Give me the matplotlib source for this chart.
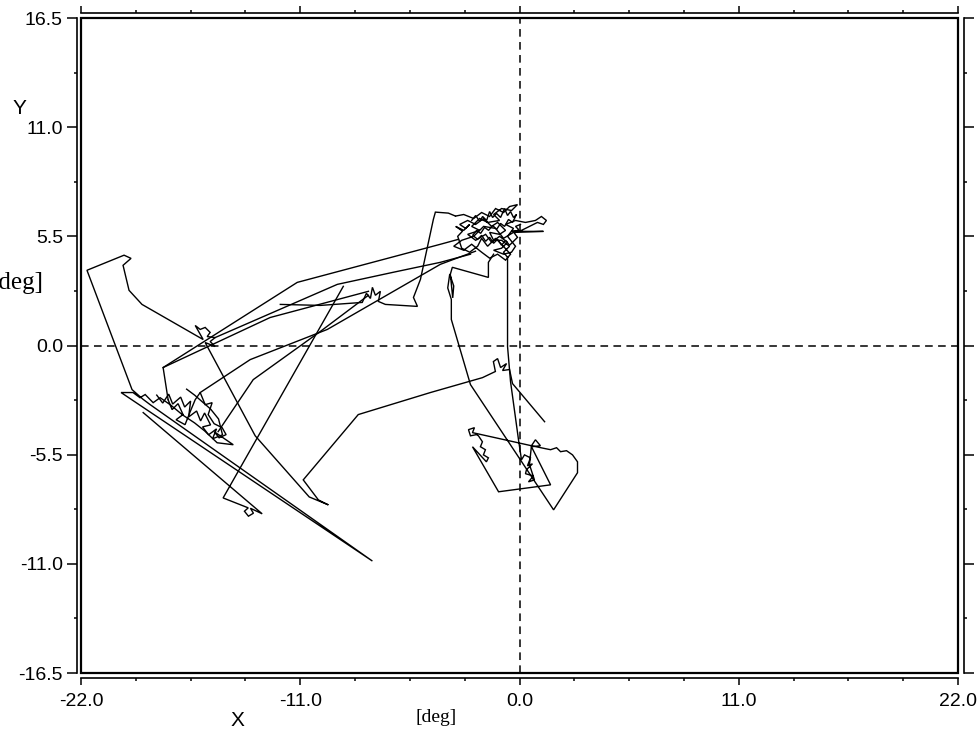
import numpy as np
import matplotlib.pyplot as plt
from matplotlib.ticker import MultipleLocator, FormatStrFormatter
from matplotlib.patches import Rectangle

# gaze trace, all in [deg]
# line C: start point, small star, hook up into the upper cluster
line_c = [(-12.00, 2.07), (-9.99, 2.02), (-7.89, 2.17), (-7.68, 2.63), (-7.48, 2.37),
          (-7.38, 2.93), (-7.23, 2.53), (-6.98, 2.73), (-7.08, 2.22), (-6.73, 2.07),
          (-5.12, 1.97), (-5.32, 2.42), (-4.97, 3.33), (-4.32, 6.36), (-4.22, 6.72),
          (-3.57, 6.67), (-3.21, 6.52)]

# upper fixation cluster
cluster_up = [(-3.21, 6.52), (-2.8, 6.6), (-2.3, 6.4), (-1.9, 6.7), (-1.5, 6.5), (-1.2, 6.9),
              (-0.8, 6.7), (-0.5, 7.0), (-0.1, 7.1), (-0.4, 6.8), (-0.9, 6.9), (-1.3, 6.6),
              (-1.0, 6.3), (-1.6, 6.2), (-2.0, 6.4), (-2.4, 6.0), (-2.0, 5.8), (-2.6, 5.6),
              (-2.2, 5.3), (-1.7, 5.6), (-1.4, 5.2), (-1.0, 5.5), (-0.6, 5.2), (-0.9, 4.9),
              (-1.3, 4.8), (-0.8, 4.6), (-0.4, 4.7), (-0.2, 5.0), (-0.6, 5.5), (-0.3, 5.9),
              (-0.7, 6.1), (-0.2, 6.3), (0.3, 6.2), (0.8, 6.3), (1.1, 6.5), (1.35, 6.3),
              (1.2, 6.1), (0.9, 6.2), (0.5, 6.0), (0.1, 5.8), (-0.4, 5.75), (1.2, 5.75),
              (-0.3, 5.7), (-0.8, 5.4), (-1.2, 5.9), (-1.8, 6.0), (-2.3, 5.5), (-2.9, 5.3),
              (-3.3, 5.0), (-2.8, 4.8), (-2.4, 5.1), (-1.9, 4.7), (-1.5, 4.4), (-1.1, 4.6),
              (-0.7, 4.3), (-0.45, 4.6), (-0.9, 5.1), (-1.2, 5.4), (-1.6, 5.0), (-1.9, 5.4),
              (-2.1, 5.0), (-2.5, 4.7), (-2.9, 4.9), (-3.1, 5.5), (-2.86, 5.76), (-3.2, 6.0),
              (-2.8, 5.8), (-2.5, 6.1), (-2.7, 5.9), (-3.0, 6.1), (-2.6, 6.3), (-2.2, 6.1),
              (-1.8, 6.4), (-1.4, 6.0), (-1.1, 6.2), (-0.7, 5.8), (-1.0, 5.6), (-1.5, 5.7),
              (-1.3, 5.3), (-0.9, 5.3), (-0.5, 5.0), (-0.8, 4.7), (-0.6, 4.44)]

# finer squiggles inside the same cluster
cluster_up2 = [(-2.4, 6.3), (-2.2, 6.55), (-2.0, 6.25), (-1.85, 6.5), (-1.65, 6.3), (-1.5, 6.75),
               (-1.35, 6.45), (-1.15, 6.65), (-0.95, 6.45), (-0.75, 6.9), (-0.6, 6.55), (-0.45, 6.75),
               (-0.3, 6.45), (-0.15, 6.6), (-0.35, 6.2), (-0.55, 6.35), (-0.75, 6.0), (-0.95, 6.15),
               (-1.15, 5.85), (-1.35, 6.05), (-1.55, 5.8), (-1.75, 5.95), (-1.95, 5.65), (-2.15, 5.8),
               (-2.35, 5.55), (-2.1, 5.35), (-1.9, 5.55), (-1.7, 5.25), (-1.5, 5.45), (-1.3, 5.15),
               (-1.1, 5.35), (-0.9, 5.05), (-0.7, 5.3), (-0.5, 5.05), (-0.3, 5.25), (-0.1, 5.45),
               (-0.25, 5.65), (-0.05, 5.85), (-0.2, 6.0), (0.05, 6.1)]

# long upper line back to the left cluster
line_a = [(-3.06, 5.35), (-3.97, 5.10), (-11.15, 3.18), (-17.88, -1.11), (-17.63, -2.73)]

# left cluster, spike, far-left flag, star near origin line, run to lower middle
line_left = [(-17.63, -2.73), (-17.43, -3.23), (-17.13, -2.93), (-16.88, -3.48), (-17.23, -3.74),
             (-16.78, -3.99), (-16.52, -3.33), (-16.27, -2.73), (-16.02, -2.37), (-15.77, -2.98),
             (-15.42, -2.88), (-15.62, -3.48), (-15.32, -3.94), (-14.92, -4.14), (-14.72, -4.49),
             (-15.07, -4.65), (-15.32, -4.34), (-14.36, -5.00), (-15.17, -4.90), (-15.8, -4.3),
             (-16.3, -3.9), (-16.9, -3.5), (-17.5, -3.0), (-18.03, -2.63), (-18.38, -2.88),
             (-18.78, -2.47), (-19.04, -2.63), (-19.39, -2.37), (-19.99, -2.37), (-7.38, -10.86),
             (-18.53, -2.98), (-18.9, -2.7), (-19.44, -2.22), (-21.70, 3.79), (-19.84, 4.55),
             (-19.49, 4.39), (-19.89, 4.04), (-19.59, 2.78), (-18.94, 2.07), (-15.87, 0.30),
             (-16.27, 1.01), (-16.02, 0.81), (-15.77, 0.91), (-15.52, 0.66), (-15.67, 0.45),
             (-15.27, 0.40), (-15.52, 0.20), (-15.27, -0.05), (-15.77, 0.15), (-13.26, -4.55),
             (-10.55, -7.63), (-9.59, -8.03), (-10.09, -7.78), (-10.85, -6.77), (-8.09, -3.48),
             (-4.47, -2.37), (-1.86, -1.62), (-1.21, -1.31), (-1.31, -0.81), (-1.10, -0.66),
             (-0.95, -1.11), (-0.65, -0.91), (-0.85, -1.26), (-0.50, -1.21), (-0.35, -1.92),
             (1.26, -3.84)]

cluster_left2 = [(-18.2, -2.5), (-17.9, -2.9), (-17.6, -2.45), (-17.4, -2.95), (-17.0, -2.6),
                 (-16.8, -3.1), (-16.5, -2.8), (-16.6, -3.6), (-16.2, -3.3), (-16.0, -3.8),
                 (-15.8, -3.4), (-15.5, -4.0), (-15.9, -4.1), (-15.6, -4.5), (-15.2, -4.2),
                 (-15.4, -4.7), (-14.9, -4.5), (-15.1, -3.7), (-15.5, -3.2), (-16.3, -2.5),
                 (-16.7, -2.2)]

# vertical drop near x=0, lower cluster, back up
line_down = [(-0.60, 4.44), (-0.60, 2.32), (-0.60, -0.05), (-0.45, -1.82), (-0.05, -4.75),
             (0.10, -5.76), (0.25, -5.51), (0.55, -5.66), (0.40, -6.06), (0.65, -5.96),
             (0.35, -6.26), (0.30, -6.46), (0.70, -6.57), (0.45, -6.87), (0.75, -6.77),
             (0.5, -6.0), (0.60, -5.05), (0.80, -4.75), (1.05, -5.05), (0.60, -5.10),
             (1.56, -7.02), (-1.05, -7.37), (-2.36, -5.10), (-1.66, -5.86), (-1.56, -5.66),
             (-1.81, -5.51), (-1.71, -5.25), (-1.96, -5.10), (-1.86, -4.85), (-2.06, -4.55),
             (-2.16, -4.49), (-2.46, -4.55), (-2.56, -4.24), (-2.26, -4.14), (-2.36, -4.39),
             (0.60, -5.05), (1.31, -5.20), (1.56, -5.25), (1.86, -5.15), (2.06, -5.35),
             (2.36, -5.30), (2.66, -5.51), (2.91, -5.86), (2.91, -6.41), (1.71, -8.28),
             (-2.46, -1.97), (-3.42, 1.31), (-3.42, 2.32), (-3.6, 2.9), (-3.5, 3.6),
             (-3.3, 3.0), (-3.35, 2.4), (-3.47, 3.59), (-3.37, 3.94), (-1.56, 3.43),
             (-1.56, 4.19), (-1.3, 4.6)]

line_b = [(-15.27, 0.40), (-9.14, 3.08), (-6.33, 3.69), (-3.97, 4.19), (-2.46, 4.60)]

line_d = [(-8.84, 2.98), (-14.87, -7.68), (-13.61, -8.18), (-13.8, -8.35), (-13.6, -8.6),
          (-13.35, -8.45), (-13.5, -8.2), (-12.91, -8.48), (-18.88, -3.38)]

line_l1 = [(-15.12, -4.34), (-13.36, -1.72), (-9.99, 0.71), (-7.58, 2.53)]
line_l2 = [(-16.02, -2.37), (-13.51, -0.71), (-9.64, 0.81), (-3.97, 4.09), (-2.21, 4.75)]
line_e = [(-17.88, -1.11), (-12.51, 1.41), (-7.58, 2.73)]

strokes = [line_c, cluster_up, cluster_up2, line_a, line_left, cluster_left2, line_down,
           line_b, line_d, line_l1, line_l2, line_e]

W, H = 977, 737
fig = plt.figure(figsize=(W / 100, H / 100), dpi=100)
ax = fig.add_axes([81 / W, 64 / H, 877 / W, 655 / H])

for s in strokes:
    xs, ys = zip(*s)
    ax.plot(xs, ys, color='black', lw=1.0, solid_joinstyle='miter')

dash = (0, (5, 3.5))
ax.axvline(0, color='black', lw=1.1, ls=dash)
ax.axhline(0, color='black', lw=1.1, ls=dash)

ax.set_xlim(-22, 22)
ax.set_ylim(-16.5, 16.5)
ax.xaxis.set_major_locator(MultipleLocator(11))
ax.xaxis.set_minor_locator(MultipleLocator(2.75))
ax.yaxis.set_major_locator(MultipleLocator(5.5))
ax.yaxis.set_minor_locator(MultipleLocator(2.75))
ax.xaxis.set_major_formatter(FormatStrFormatter('%.1f'))
ax.yaxis.set_major_formatter(FormatStrFormatter('%.1f'))

# axis lines sit a little outside the frame, like the scanned plot
for name, off in (('left', 3), ('bottom', 3.5), ('top', 3.5), ('right', 4.5)):
    ax.spines[name].set_position(('outward', off))
    ax.spines[name].set_linewidth(1.2)
ax.add_patch(Rectangle((0, 0), 1, 1, transform=ax.transAxes, fill=False,
                       lw=1.6, color='black', clip_on=False))

ax.tick_params(which='both', direction='out', top=True, right=True,
               labeltop=False, labelright=False, width=1.1)
ax.tick_params(axis='y', which='major', length=7, pad=3)
ax.tick_params(axis='x', which='major', length=5, pad=6)
ax.tick_params(which='minor', length=2.5)
for lab in ax.get_xticklabels() + ax.get_yticklabels():
    lab.set_family('Liberation Sans')
    lab.set_fontsize(14)

fig.text(19 / W, 1 - 108 / H, 'Y', family='Liberation Sans', fontsize=15,
         ha='center', va='center')
# left unit label runs off the page edge in the scan
fig.text(43 / W, 1 - 283 / H, '[deg]', family='Liberation Serif', fontsize=18,
         ha='right', va='center')
fig.text(237 / W, 1 - 720 / H, 'X', family='Liberation Sans', fontsize=15,
         ha='center', va='center')
fig.text(436 / W, 1 - 718 / H, '[deg]', family='Liberation Serif', fontsize=14,
         ha='center', va='center')

fig.savefig('out.png', dpi=100)
